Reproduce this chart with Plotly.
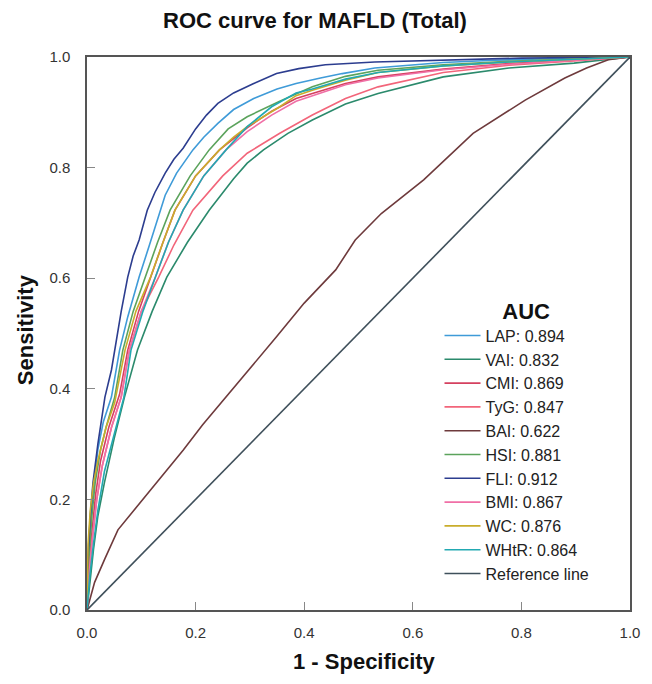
import plotly.graph_objects as go

# ---- data ----
series_names = ["LAP", "VAI", "CMI", "TyG", "BAI", "HSI", "FLI", "BMI", "WC", "WHtR"]
auc_values = [0.894, 0.832, 0.869, 0.847, 0.622, 0.881, 0.912, 0.867, 0.876, 0.864]

lap_fpr = [0, .002, .006, .012, .02, .03, .045, .06, .075, .096, .115, .135, .144, .165, .186, .195, .215, .241, .27, .295, .307, .35, .385, .43, .47, .53, .6, .656, .75, .85, 1]
lap_tpr = [0, .08, .15, .22, .29, .34, .385, .47, .53, .602, .66, .723, .75, .79, .82, .832, .855, .88, .905, .918, .925, .942, .952, .962, .97, .98, .985, .99, .994, .997, 1]

vai_fpr = [0, .005, .012, .02, .032, .05, .069, .093, .12, .147, .185, .225, .27, .295, .325, .37, .415, .476, .536, .656, .777, .897, 1]
vai_tpr = [0, .05, .11, .17, .23, .31, .385, .47, .54, .602, .665, .723, .78, .808, .832, .862, .886, .915, .934, .964, .98, .989, 1]

cmi_fpr = [0, .004, .009, .016, .025, .04, .06, .075, .095, .117, .14, .162, .2, .244, .295, .34, .385, .415, .476, .536, .656, .777, .9, 1]
cmi_tpr = [0, .08, .14, .21, .27, .33, .39, .47, .54, .602, .665, .723, .785, .832, .872, .902, .925, .934, .952, .964, .978, .988, .995, 1]

tyg_fpr = [0, .004, .01, .018, .028, .045, .063, .078, .1, .132, .16, .195, .25, .295, .355, .415, .476, .536, .656, .777, .897, 1]
tyg_tpr = [0, .07, .13, .20, .26, .33, .385, .47, .54, .602, .66, .723, .785, .826, .862, .895, .925, .946, .972, .985, .993, 1]

bai_fpr = [0, .014, .033, .057, .117, .177, .213, .283, .349, .40, .458, .494, .542, .62, .711, .807, .88, .92, .96, 1]
bai_tpr = [0, .05, .093, .145, .217, .289, .335, .416, .494, .555, .615, .669, .717, .778, .862, .922, .962, .98, .995, 1]

hsi_fpr = [0, .004, .009, .015, .025, .035, .051, .066, .085, .108, .13, .153, .19, .225, .26, .295, .355, .415, .476, .536, .656, .777, .9, 1]
hsi_tpr = [0, .10, .17, .23, .29, .33, .385, .47, .54, .602, .665, .723, .785, .832, .87, .892, .92, .946, .965, .976, .986, .992, .996, 1]

fli_fpr = [0, .002, .006, .011, .02, .027, .033, .045, .051, .063, .075, .085, .096, .111, .125, .144, .16, .177, .2, .22, .241, .27, .307, .349, .39, .439, .53, .6, .7, .8, .9, 1]
fli_tpr = [0, .10, .17, .23, .30, .35, .385, .434, .47, .54, .602, .64, .669, .723, .755, .79, .815, .835, .87, .895, .916, .935, .952, .97, .979, .986, .991, .993, .996, .998, .999, 1]

bmi_fpr = [0, .004, .01, .018, .028, .045, .063, .078, .1, .126, .15, .177, .215, .256, .295, .34, .385, .415, .476, .536, .656, .777, .9, 1]
bmi_tpr = [0, .07, .13, .20, .26, .33, .385, .47, .54, .602, .665, .723, .785, .832, .865, .895, .92, .93, .95, .962, .977, .987, .994, 1]

wc_fpr = [0, .002, .006, .012, .02, .035, .051, .07, .09, .117, .14, .162, .2, .244, .27, .295, .355, .385, .415, .476, .536, .656, .777, .9, 1]
wc_tpr = [0, .12, .18, .23, .27, .33, .375, .47, .54, .602, .665, .723, .785, .832, .855, .874, .91, .93, .94, .958, .972, .984, .991, .996, 1]

whtr_fpr = [0, .005, .012, .02, .032, .05, .068, .081, .103, .126, .15, .177, .215, .256, .295, .34, .385, .415, .476, .536, .656, .777, .9, 1]
whtr_tpr = [0, .06, .12, .18, .25, .32, .385, .47, .54, .602, .665, .723, .785, .832, .874, .91, .935, .942, .96, .972, .984, .991, .996, 1]

ref_x = [0, 1]
ref_y = [0, 1]

x_ticks = [0.0, 0.2, 0.4, 0.6, 0.8, 1.0]
y_ticks = [0.0, 0.2, 0.4, 0.6, 0.8, 1.0]
tick_text = ["0.0", "0.2", "0.4", "0.6", "0.8", "1.0"]

# ---- styling ----
colors = {
    "LAP": "#3f9bd8",
    "VAI": "#2b8a6c",
    "CMI": "#d5405f",
    "TyG": "#f2657a",
    "BAI": "#6e3a3c",
    "HSI": "#5ba35c",
    "FLI": "#2c3d8f",
    "BMI": "#f06fa6",
    "WC": "#c9ad2b",
    "WHtR": "#22a9b2",
}
ref_color = "#3f505b"

curves = {
    "LAP": (lap_fpr, lap_tpr),
    "VAI": (vai_fpr, vai_tpr),
    "CMI": (cmi_fpr, cmi_tpr),
    "TyG": (tyg_fpr, tyg_tpr),
    "BAI": (bai_fpr, bai_tpr),
    "HSI": (hsi_fpr, hsi_tpr),
    "FLI": (fli_fpr, fli_tpr),
    "BMI": (bmi_fpr, bmi_tpr),
    "WC": (wc_fpr, wc_tpr),
    "WHtR": (whtr_fpr, whtr_tpr),
}

FONT = "Arial, 'Liberation Sans', sans-serif"

fig = go.Figure()
for name, auc in zip(series_names, auc_values):
    xs, ys = curves[name]
    fig.add_trace(go.Scatter(
        x=xs, y=ys, mode="lines",
        name=f"{name}: {auc:.3f}",
        line=dict(color=colors[name], width=1.6),
    ))
fig.add_trace(go.Scatter(
    x=ref_x, y=ref_y, mode="lines", name="Reference line",
    line=dict(color=ref_color, width=1.6),
))

# the page body has an 8px margin, so layout coordinates are page coordinates - 8
OFF = 8
W, H = 652 - OFF, 684 - 2 * OFF
L, R, T, B = 87 - OFF, 640 - OFF, 57 - OFF, 610 - OFF
PW, PH = R - L, B - T

fig.update_layout(
    width=W, height=H,
    margin=dict(l=L, r=W - R, t=T, b=H - B),
    paper_bgcolor="white", plot_bgcolor="white",
    font=dict(family=FONT, color="#222222"),
    title=dict(
        text="<b>ROC curve for MAFLD (Total)</b>",
        x=(315 - OFF) / W, xref="container", xanchor="center",
        y=1 - (20 - OFF) / H, yref="container", yanchor="middle",
        font=dict(size=22, color="#111111", family=FONT),
    ),
    showlegend=True,
    legend=dict(
        x=(446 - OFF - L) / PW, xanchor="left",
        y=(B - (290 - OFF)) / PH, yanchor="top",
        bgcolor="rgba(0,0,0,0)",
        font=dict(size=16, color="#222222", family=FONT),
        title=dict(text="&nbsp;&nbsp;&nbsp;<b>AUC</b>", side="top center",
                   font=dict(size=22, color="#111111", family=FONT)),
        tracegroupgap=0,
        itemwidth=36,
    ),
    xaxis=dict(
        range=[0, 1], tickvals=x_ticks, ticktext=tick_text,
        showgrid=False, zeroline=False,
        showline=True, mirror=True, linecolor="#555555", linewidth=1.5,
        ticks="inside", ticklen=8, tickcolor="#888888", tickwidth=1,
        tickfont=dict(size=15, color="#333333", family=FONT),
        ticklabelstandoff=8,
    ),
    yaxis=dict(
        range=[0, 1], tickvals=y_ticks, ticktext=tick_text,
        showgrid=False, zeroline=False,
        showline=True, mirror=True, linecolor="#555555", linewidth=1.5,
        ticks="inside", ticklen=8, tickcolor="#888888", tickwidth=1,
        tickfont=dict(size=15, color="#333333", family=FONT),
        ticklabelstandoff=12,
    ),
    annotations=[
        dict(text="<b>1 - Specificity</b>", xref="paper", yref="paper",
             x=((370 - OFF) - L) / PW, y=-((661 - OFF) - B) / PH,
             xanchor="center", yanchor="middle",
             showarrow=False, font=dict(size=22, color="#111111", family=FONT)),
        dict(text="<b>Sensitivity</b>", xref="paper", yref="paper",
             x=-(L - (24 - OFF)) / PW, y=(B - (330 - OFF)) / PH,
             xanchor="center", yanchor="middle",
             textangle=-90, showarrow=False,
             font=dict(size=22, color="#111111", family=FONT)),
    ],
)

fig.write_html("out.html")
